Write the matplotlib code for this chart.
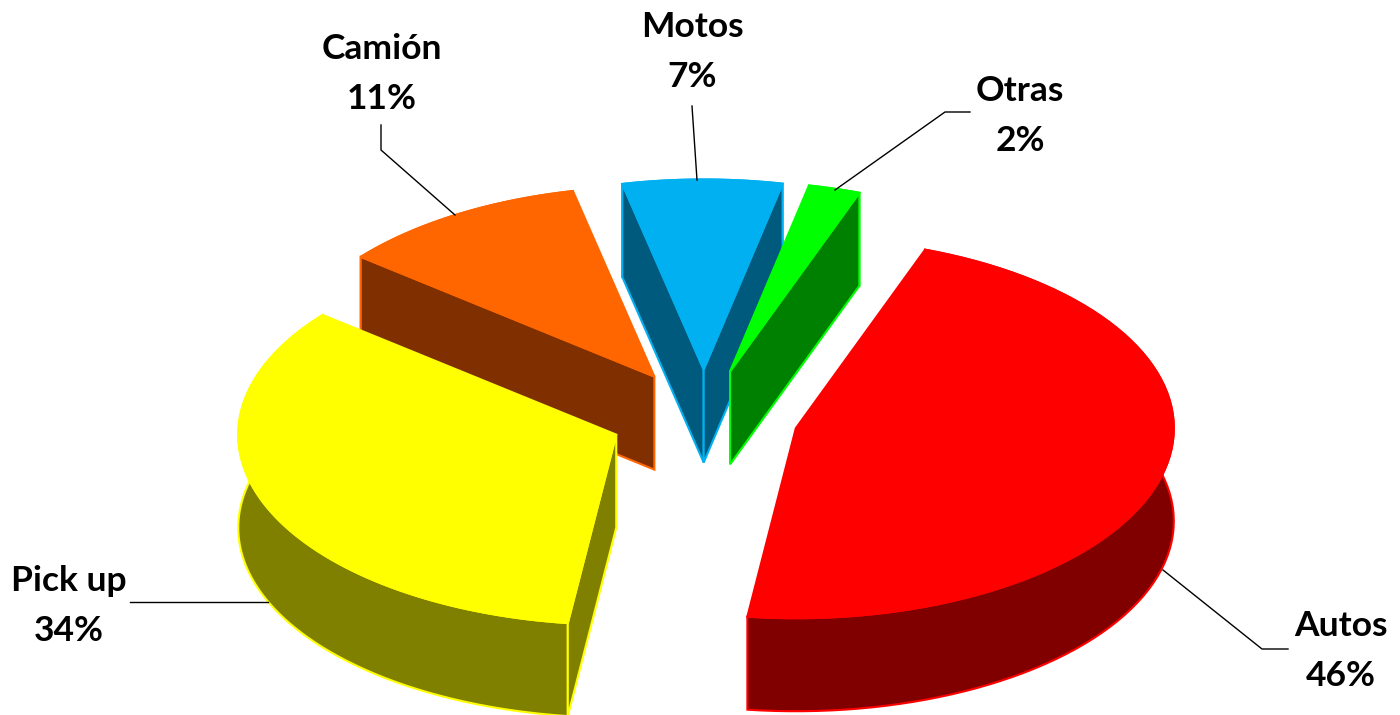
import numpy as np
import matplotlib
matplotlib.use("Agg")
import matplotlib.pyplot as plt
from matplotlib.patches import Polygon

categories = ["Autos", "Pick up", "Camión", "Motos", "Otras"]
shares = [46.49, 33.8, 10.7, 6.8, 2.21]
top_colors = ["#ff0000", "#ffff00", "#ff6600", "#00b0f0", "#00ff00"]
side_colors = ["#800000", "#808000", "#803000", "#005a7d", "#008000"]

label_pos = [(1341, 651), (69, 606), (382, 74), (692, 52), (1020, 116)]
leaders = [[(1163, 570), (1262, 649), (1288, 649)],
           [(268, 602), (130, 602)],
           [(455, 215), (381, 150), (381, 125)],
           [(697, 180), (692, 106)],
           [(835, 190), (945, 112), (970, 112)]]

CX, CY = 704, 417
A, B = 378, 190
DEPTH = 93
EXPLODE = 0.25
START = 20.0

fig = plt.figure(figsize=(14, 7.15), dpi=100)
ax = fig.add_axes([0, 0, 1, 1])
ax.set_xlim(0, 1400)
ax.set_ylim(715, 0)
ax.axis("off")


def face_visible(edge, interior):
    # The cut face shows when the extrusion (straight down) leaves the wedge.
    down = (0.0, 1.0)
    side_interior = edge[0] * interior[1] - edge[1] * interior[0]
    side_down = edge[0] * down[1] - edge[1] * down[0]
    return side_interior * side_down < 0


angle = START
wedges = []
for cat, v, tc, sc in zip(categories, shares, top_colors, side_colors):
    span = v / sum(shares) * 360
    mid = np.radians(angle + span / 2)
    ox = CX + EXPLODE * A * np.sin(mid)
    oy = CY - EXPLODE * B * np.cos(mid)
    th = np.radians(np.linspace(angle, angle + span, 80))
    xs = ox + A * np.sin(th)
    ys = oy - B * np.cos(th)
    interior = (A * np.sin(mid), -B * np.cos(mid))
    wedges.append((ox, oy, xs, ys, tc, sc, interior))
    angle += span

# back-to-front drawing order
for i in [3, 4, 2, 0, 1]:
    ox, oy, xs, ys, tc, sc, interior = wedges[i]
    rim = np.column_stack([np.r_[xs, xs[::-1]], np.r_[ys, ys[::-1] + DEPTH]])
    ax.add_patch(Polygon(rim, closed=True, fc=sc, ec=tc, lw=1.5, zorder=2))
    for k in (0, -1):
        if face_visible((xs[k] - ox, ys[k] - oy), interior):
            face = [(ox, oy), (xs[k], ys[k]), (xs[k], ys[k] + DEPTH), (ox, oy + DEPTH)]
            ax.add_patch(Polygon(face, closed=True, fc=sc, ec=tc, lw=1.5, zorder=2))
    top = np.column_stack([np.r_[ox, xs], np.r_[oy, ys]])
    ax.add_patch(Polygon(top, closed=True, fc=tc, ec=tc, lw=1.5, zorder=2))

for cat, v, (lx, ly), pts in zip(categories, shares, label_pos, leaders):
    px, py = zip(*pts)
    ax.plot(px, py, color="black", lw=1, zorder=3)
    ax.text(lx, ly, f"{cat}\n{round(v)}%", ha="center", va="center", fontsize=25.5,
            fontweight="bold", family=["Lato", "DejaVu Sans"], linespacing=1.726,
            color="black", zorder=4)

fig.savefig("out.png", dpi=100, facecolor="white")
